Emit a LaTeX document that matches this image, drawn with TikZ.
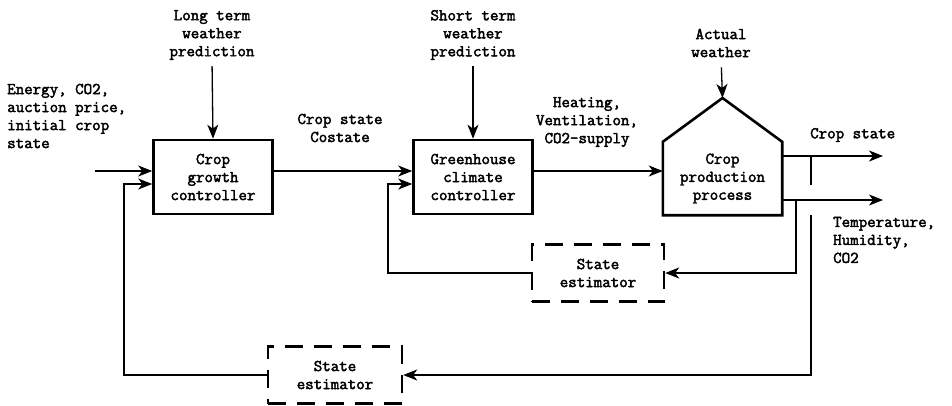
\documentclass[tikz,border=0pt]{standalone}
\usepackage{fontspec}
\newfontfamily\labelfont{Latin Modern Mono}[FakeBold=2.4]
\usetikzlibrary{arrows.meta}

\tikzset{
  block/.style={draw, line width=2.6pt, align=center, inner sep=0pt,
    minimum width=119pt, minimum height=74pt},
  estim/.style={draw, line width=2.4pt, dash pattern=on 18pt off 11pt,
    align=center, inner sep=0pt, minimum height=57pt},
  lbl/.style={align=center, inner sep=0pt},
  flow/.style={line width=1.3pt, -{Stealth[length=14pt,width=11pt,inset=4pt]}},
  wire/.style={line width=1.3pt}
}

\begin{document}
\begin{tikzpicture}[x=1pt, y=-1pt, font=\labelfont\fontsize{16.5}{18}\selectfont]
\useasboundingbox (0,0) rectangle (952,405);

\node[block] (cg) at (213,177) {Crop\\growth\\controller};
\node[block] (gh) at (473,177) {Greenhouse\\climate\\controller};
\node[lbl, minimum width=119pt, minimum height=73pt] (prod) at (722.5,178.5) {Crop\\production\\process};
\coordinate (roof) at (722.5,98);
\draw[line width=2.6pt] (prod.north west) -- (roof) -- (prod.north east)
  -- (prod.south east) -- (prod.south west) -- cycle;

\node[estim, minimum width=132pt] (se1) at (598,273) {State\\estimator};
\node[estim, minimum width=134pt] (se2) at (335,375) {State\\estimator};

\node[lbl] (ltw) at (212,35) {Long term\\weather\\prediction};
\node[lbl] (stw) at (473,35) {Short term\\weather\\prediction};
\node[lbl] (aw) at (721,43) {Actual\\weather};
\node[lbl, align=left, anchor=west] (inp) at (7,116) {Energy, CO2,\\auction price,\\initial crop\\state};
\node[lbl] (cs1) at (340,128) {Crop state\\Costate};
\node[lbl] (heat) at (587,122) {Heating,\\Ventilation,\\CO2-supply};
\node[lbl, anchor=west] (cs2) at (810,135) {Crop state};
\node[lbl, align=left, anchor=west] (thc) at (833,240) {Temperature,\\Humidity,\\CO2};

\coordinate (in) at (95,171);
\coordinate (cso) at (883,156);
\coordinate (tho) at (883,200);
\coordinate (br1) at (796,200);
\coordinate (br2) at (811,156);
\coordinate (br3) at (811,215);
\coordinate (fb1) at (388,184);
\coordinate (fb2) at (124,184);

\draw[flow, shorten <=6pt] (ltw.south) -- (cg.north);
\draw[flow, shorten <=6pt] (stw.south) -- (gh.north);
\draw[flow, shorten <=10pt] (aw.south) -- (roof);

\draw[flow] (in) -- (in -| cg.west);
\draw[flow] (cg.east |- in) -- (gh.west |- in);
\draw[flow] (gh.east |- in) -- (prod.west |- in);
\draw[flow] (prod.east |- cso) -- (cso);
\draw[flow] (prod.east |- tho) -- (tho);

\draw[flow] (br1) |- (se1.east);
\draw[flow] (se1.west) -| (fb1) -- (fb1 -| gh.west);
\draw[wire] (br2) -- ++(0,29);
\draw[flow] (br3) |- (se2.east);
\draw[flow] (se2.west) -| (fb2) -- (fb2 -| cg.west);
\end{tikzpicture}
\end{document}
